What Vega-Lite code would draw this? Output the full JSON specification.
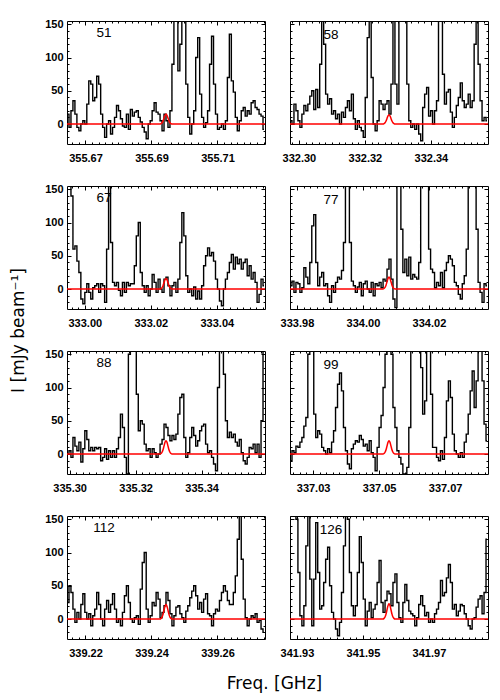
{
"$schema":"https://vega.github.io/schema/vega-lite/v6.json",
"background":"white",
"padding":{"left":8,"top":17,"right":5,"bottom":5},
"columns":2,
"spacing":{"row":42,"column":25},
"bounds":"flush",
"config":{
"view":{"stroke":"black","strokeWidth":1},
"axis":{"domain":false,"grid":false,"tickColor":"black","tickWidth":1,"labelColor":"black","labelFont":"Liberation Sans","labelFontWeight":"bold","labelFontSize":11,"labelFlush":false,"labelOverlap":false,"titleColor":"black","titleFont":"DejaVu Sans","titleFontSize":17,"titleFontWeight":"normal"},
"title":{"font":"Liberation Sans","fontSize":13.5,"fontWeight":"normal","color":"black","dy":7}
},
"datasets":{
"s51":[{"f":355.6647,"v":15},{"f":355.6653,"v":-5},{"f":355.6659,"v":20},{"f":355.6665,"v":35},{"f":355.6671,"v":15},{"f":355.6677,"v":-5},{"f":355.6683,"v":-10},{"f":355.6689,"v":0},{"f":355.6695,"v":5},{"f":355.6701,"v":0},
{"f":355.6707,"v":30},{"f":355.6713,"v":65},{"f":355.6719,"v":60},{"f":355.6725,"v":35},{"f":355.6731,"v":40},{"f":355.6737,"v":72},{"f":355.6743,"v":60},{"f":355.6749,"v":15},{"f":355.6755,"v":-5},{"f":355.6761,"v":-20},
{"f":355.6767,"v":0},{"f":355.6773,"v":5},{"f":355.6779,"v":-15},{"f":355.6785,"v":-5},{"f":355.6791,"v":10},{"f":355.6797,"v":28},{"f":355.6803,"v":20},{"f":355.6809,"v":8},{"f":355.6815,"v":-3},{"f":355.6821,"v":-5},
{"f":355.6827,"v":15},{"f":355.6833,"v":-8},{"f":355.6839,"v":22},{"f":355.6845,"v":12},{"f":355.6851,"v":18},{"f":355.6857,"v":20},{"f":355.6863,"v":10},{"f":355.6869,"v":3},{"f":355.6875,"v":-5},{"f":355.6881,"v":-12},
{"f":355.6887,"v":-22},{"f":355.6893,"v":0},{"f":355.6899,"v":5},{"f":355.6905,"v":20},{"f":355.6911,"v":32},{"f":355.6917,"v":18},{"f":355.6923,"v":15},{"f":355.6929,"v":5},{"f":355.6935,"v":-10},{"f":355.6941,"v":15},
{"f":355.6947,"v":5},{"f":355.6953,"v":-5},{"f":355.6959,"v":20},{"f":355.6965,"v":90},{"f":355.6971,"v":200},{"f":355.6977,"v":200},{"f":355.6983,"v":80},{"f":355.6989,"v":120},{"f":355.6995,"v":200},{"f":355.7001,"v":200},
{"f":355.7007,"v":60},{"f":355.7013,"v":10},{"f":355.7019,"v":-15},{"f":355.7025,"v":0},{"f":355.7031,"v":20},{"f":355.7037,"v":100},{"f":355.7043,"v":130},{"f":355.7049,"v":45},{"f":355.7055,"v":10},{"f":355.7061,"v":-5},
{"f":355.7067,"v":2},{"f":355.7073,"v":20},{"f":355.7079,"v":90},{"f":355.7085,"v":132},{"f":355.7091,"v":60},{"f":355.7097,"v":15},{"f":355.7103,"v":-8},{"f":355.7109,"v":-5},{"f":355.7115,"v":0},{"f":355.7121,"v":-8},
{"f":355.7127,"v":5},{"f":355.7133,"v":70},{"f":355.7139,"v":135},{"f":355.7145,"v":65},{"f":355.7151,"v":48},{"f":355.7157,"v":10},{"f":355.7163,"v":-10},{"f":355.7169,"v":5},{"f":355.7175,"v":20},{"f":355.7181,"v":25},
{"f":355.7187,"v":12},{"f":355.7193,"v":20},{"f":355.7199,"v":15},{"f":355.7205,"v":32},{"f":355.7211,"v":35},{"f":355.7217,"v":25},{"f":355.7223,"v":22},{"f":355.7229,"v":15},{"f":355.7235,"v":12},{"f":355.7241,"v":-8}],
"s58":[{"f":332.2976,"v":5},{"f":332.2982,"v":0},{"f":332.2988,"v":30},{"f":332.2994,"v":20},{"f":332.3000,"v":5},{"f":332.3006,"v":-5},{"f":332.3012,"v":15},{"f":332.3018,"v":28},{"f":332.3024,"v":20},{"f":332.3030,"v":30},
{"f":332.3036,"v":42},{"f":332.3042,"v":50},{"f":332.3048,"v":22},{"f":332.3054,"v":52},{"f":332.3060,"v":25},{"f":332.3066,"v":90},{"f":332.3072,"v":200},{"f":332.3078,"v":120},{"f":332.3084,"v":45},{"f":332.3090,"v":30},
{"f":332.3096,"v":38},{"f":332.3102,"v":15},{"f":332.3108,"v":20},{"f":332.3114,"v":8},{"f":332.3120,"v":15},{"f":332.3126,"v":0},{"f":332.3132,"v":18},{"f":332.3138,"v":10},{"f":332.3144,"v":25},{"f":332.3150,"v":35},
{"f":332.3156,"v":20},{"f":332.3162,"v":45},{"f":332.3168,"v":8},{"f":332.3174,"v":-8},{"f":332.3180,"v":5},{"f":332.3186,"v":-5},{"f":332.3192,"v":-10},{"f":332.3198,"v":-20},{"f":332.3204,"v":40},{"f":332.3210,"v":130},
{"f":332.3216,"v":200},{"f":332.3222,"v":70},{"f":332.3228,"v":0},{"f":332.3234,"v":-10},{"f":332.3240,"v":5},{"f":332.3246,"v":35},{"f":332.3252,"v":30},{"f":332.3258,"v":22},{"f":332.3264,"v":30},{"f":332.3270,"v":35},
{"f":332.3276,"v":15},{"f":332.3282,"v":60},{"f":332.3288,"v":200},{"f":332.3294,"v":60},{"f":332.3300,"v":30},{"f":332.3306,"v":200},{"f":332.3312,"v":200},{"f":332.3318,"v":200},{"f":332.3324,"v":200},{"f":332.3330,"v":60},
{"f":332.3336,"v":5},{"f":332.3342,"v":-5},{"f":332.3348,"v":0},{"f":332.3354,"v":-8},{"f":332.3360,"v":0},{"f":332.3366,"v":-15},{"f":332.3372,"v":-25},{"f":332.3378,"v":25},{"f":332.3384,"v":45},{"f":332.3390,"v":55},
{"f":332.3396,"v":12},{"f":332.3402,"v":20},{"f":332.3408,"v":0},{"f":332.3414,"v":20},{"f":332.3420,"v":35},{"f":332.3426,"v":200},{"f":332.3432,"v":180},{"f":332.3438,"v":75},{"f":332.3444,"v":30},{"f":332.3450,"v":48},
{"f":332.3456,"v":52},{"f":332.3462,"v":18},{"f":332.3468,"v":-5},{"f":332.3474,"v":10},{"f":332.3480,"v":28},{"f":332.3486,"v":40},{"f":332.3492,"v":62},{"f":332.3498,"v":35},{"f":332.3504,"v":25},{"f":332.3510,"v":30},
{"f":332.3516,"v":45},{"f":332.3522,"v":25},{"f":332.3528,"v":35},{"f":332.3534,"v":120},{"f":332.3540,"v":200},{"f":332.3546,"v":90},{"f":332.3552,"v":35},{"f":332.3558,"v":5},{"f":332.3564,"v":10},{"f":332.3570,"v":5}],
"s67":[{"f":332.9949,"v":200},{"f":332.9955,"v":200},{"f":332.9961,"v":140},{"f":332.9967,"v":60},{"f":332.9973,"v":65},{"f":332.9979,"v":42},{"f":332.9985,"v":25},{"f":332.9991,"v":-15},{"f":332.9997,"v":-22},{"f":333.0003,"v":-5},
{"f":333.0009,"v":8},{"f":333.0015,"v":-5},{"f":333.0021,"v":-15},{"f":333.0027,"v":2},{"f":333.0033,"v":5},{"f":333.0039,"v":8},{"f":333.0045,"v":-5},{"f":333.0051,"v":8},{"f":333.0057,"v":5},{"f":333.0063,"v":-20},
{"f":333.0069,"v":60},{"f":333.0075,"v":200},{"f":333.0081,"v":70},{"f":333.0087,"v":10},{"f":333.0093,"v":5},{"f":333.0099,"v":10},{"f":333.0105,"v":-2},{"f":333.0111,"v":-10},{"f":333.0117,"v":10},{"f":333.0123,"v":-5},
{"f":333.0129,"v":10},{"f":333.0135,"v":5},{"f":333.0141,"v":8},{"f":333.0147,"v":8},{"f":333.0153,"v":35},{"f":333.0159,"v":80},{"f":333.0165,"v":100},{"f":333.0171,"v":25},{"f":333.0177,"v":5},{"f":333.0183,"v":-5},
{"f":333.0189,"v":5},{"f":333.0195,"v":-10},{"f":333.0201,"v":0},{"f":333.0207,"v":22},{"f":333.0213,"v":10},{"f":333.0219,"v":-5},{"f":333.0225,"v":15},{"f":333.0231,"v":0},{"f":333.0237,"v":-5},{"f":333.0243,"v":15},
{"f":333.0249,"v":18},{"f":333.0255,"v":5},{"f":333.0261,"v":-10},{"f":333.0267,"v":5},{"f":333.0273,"v":10},{"f":333.0279,"v":-5},{"f":333.0285,"v":15},{"f":333.0291,"v":70},{"f":333.0297,"v":115},{"f":333.0303,"v":80},
{"f":333.0309,"v":20},{"f":333.0315,"v":-5},{"f":333.0321,"v":0},{"f":333.0327,"v":-10},{"f":333.0333,"v":3},{"f":333.0339,"v":-15},{"f":333.0345,"v":-3},{"f":333.0351,"v":-15},{"f":333.0357,"v":5},{"f":333.0363,"v":35},
{"f":333.0369,"v":50},{"f":333.0375,"v":62},{"f":333.0381,"v":50},{"f":333.0387,"v":55},{"f":333.0393,"v":42},{"f":333.0399,"v":15},{"f":333.0405,"v":0},{"f":333.0411,"v":-18},{"f":333.0417,"v":-25},{"f":333.0423,"v":0},
{"f":333.0429,"v":15},{"f":333.0435,"v":25},{"f":333.0441,"v":40},{"f":333.0447,"v":52},{"f":333.0453,"v":30},{"f":333.0459,"v":48},{"f":333.0465,"v":38},{"f":333.0471,"v":45},{"f":333.0477,"v":30},{"f":333.0483,"v":40},
{"f":333.0489,"v":45},{"f":333.0495,"v":20},{"f":333.0501,"v":35},{"f":333.0507,"v":15},{"f":333.0513,"v":25},{"f":333.0519,"v":10},{"f":333.0525,"v":-20},{"f":333.0531,"v":-8},{"f":333.0537,"v":15},{"f":333.0543,"v":5}],
"s77":[{"f":333.9782,"v":5},{"f":333.9788,"v":12},{"f":333.9794,"v":-5},{"f":333.9800,"v":10},{"f":333.9806,"v":8},{"f":333.9812,"v":-5},{"f":333.9818,"v":2},{"f":333.9824,"v":32},{"f":333.9830,"v":18},{"f":333.9836,"v":8},
{"f":333.9842,"v":40},{"f":333.9848,"v":95},{"f":333.9854,"v":112},{"f":333.9860,"v":40},{"f":333.9866,"v":5},{"f":333.9872,"v":18},{"f":333.9878,"v":25},{"f":333.9884,"v":5},{"f":333.9890,"v":8},{"f":333.9896,"v":-10},
{"f":333.9902,"v":-20},{"f":333.9908,"v":5},{"f":333.9914,"v":-5},{"f":333.9920,"v":10},{"f":333.9926,"v":18},{"f":333.9932,"v":15},{"f":333.9938,"v":28},{"f":333.9944,"v":70},{"f":333.9950,"v":200},{"f":333.9956,"v":200},
{"f":333.9962,"v":70},{"f":333.9968,"v":12},{"f":333.9974,"v":5},{"f":333.9980,"v":-5},{"f":333.9986,"v":3},{"f":333.9992,"v":10},{"f":333.9998,"v":-10},{"f":334.0004,"v":8},{"f":334.0010,"v":12},{"f":334.0016,"v":0},
{"f":334.0022,"v":-5},{"f":334.0028,"v":10},{"f":334.0034,"v":-10},{"f":334.0040,"v":8},{"f":334.0046,"v":5},{"f":334.0052,"v":10},{"f":334.0058,"v":2},{"f":334.0064,"v":15},{"f":334.0070,"v":12},{"f":334.0076,"v":30},
{"f":334.0082,"v":45},{"f":334.0088,"v":15},{"f":334.0094,"v":-15},{"f":334.0100,"v":-28},{"f":334.0106,"v":200},{"f":334.0112,"v":200},{"f":334.0118,"v":90},{"f":334.0124,"v":25},{"f":334.0130,"v":45},{"f":334.0136,"v":20},
{"f":334.0142,"v":48},{"f":334.0148,"v":15},{"f":334.0154,"v":22},{"f":334.0160,"v":18},{"f":334.0166,"v":15},{"f":334.0172,"v":40},{"f":334.0178,"v":200},{"f":334.0184,"v":200},{"f":334.0190,"v":200},{"f":334.0196,"v":200},
{"f":334.0202,"v":60},{"f":334.0208,"v":30},{"f":334.0214,"v":25},{"f":334.0220,"v":2},{"f":334.0226,"v":10},{"f":334.0232,"v":5},{"f":334.0238,"v":25},{"f":334.0244,"v":2},{"f":334.0250,"v":28},{"f":334.0256,"v":40},
{"f":334.0262,"v":50},{"f":334.0268,"v":45},{"f":334.0274,"v":35},{"f":334.0280,"v":10},{"f":334.0286,"v":5},{"f":334.0292,"v":-8},{"f":334.0298,"v":-15},{"f":334.0304,"v":8},{"f":334.0310,"v":20},{"f":334.0316,"v":60},
{"f":334.0322,"v":200},{"f":334.0328,"v":200},{"f":334.0334,"v":200},{"f":334.0340,"v":200},{"f":334.0346,"v":90},{"f":334.0352,"v":10},{"f":334.0358,"v":-5},{"f":334.0364,"v":-20},{"f":334.0370,"v":8},{"f":334.0376,"v":5}],
"s88":[{"f":335.2995,"v":0},{"f":335.3001,"v":5},{"f":335.3007,"v":-5},{"f":335.3013,"v":25},{"f":335.3019,"v":12},{"f":335.3025,"v":5},{"f":335.3031,"v":18},{"f":335.3037,"v":-12},{"f":335.3043,"v":8},{"f":335.3049,"v":35},
{"f":335.3055,"v":22},{"f":335.3061,"v":5},{"f":335.3067,"v":10},{"f":335.3073,"v":5},{"f":335.3079,"v":10},{"f":335.3085,"v":8},{"f":335.3091,"v":10},{"f":335.3097,"v":-10},{"f":335.3103,"v":-5},{"f":335.3109,"v":8},
{"f":335.3115,"v":-8},{"f":335.3121,"v":5},{"f":335.3127,"v":-5},{"f":335.3133,"v":5},{"f":335.3139,"v":-5},{"f":335.3145,"v":8},{"f":335.3151,"v":25},{"f":335.3157,"v":60},{"f":335.3163,"v":40},{"f":335.3169,"v":-5},
{"f":335.3175,"v":-30},{"f":335.3181,"v":150},{"f":335.3187,"v":200},{"f":335.3193,"v":200},{"f":335.3199,"v":200},{"f":335.3205,"v":90},{"f":335.3211,"v":35},{"f":335.3217,"v":50},{"f":335.3223,"v":45},{"f":335.3229,"v":15},
{"f":335.3235,"v":5},{"f":335.3241,"v":8},{"f":335.3247,"v":-5},{"f":335.3253,"v":8},{"f":335.3259,"v":2},{"f":335.3265,"v":-5},{"f":335.3271,"v":0},{"f":335.3277,"v":15},{"f":335.3283,"v":22},{"f":335.3289,"v":45},
{"f":335.3295,"v":40},{"f":335.3301,"v":28},{"f":335.3307,"v":20},{"f":335.3313,"v":28},{"f":335.3319,"v":22},{"f":335.3325,"v":30},{"f":335.3331,"v":60},{"f":335.3337,"v":85},{"f":335.3343,"v":90},{"f":335.3349,"v":25},
{"f":335.3355,"v":-5},{"f":335.3361,"v":2},{"f":335.3367,"v":25},{"f":335.3373,"v":40},{"f":335.3379,"v":28},{"f":335.3385,"v":12},{"f":335.3391,"v":20},{"f":335.3397,"v":35},{"f":335.3403,"v":42},{"f":335.3409,"v":45},
{"f":335.3415,"v":15},{"f":335.3421,"v":2},{"f":335.3427,"v":5},{"f":335.3433,"v":-5},{"f":335.3439,"v":-15},{"f":335.3445,"v":-25},{"f":335.3451,"v":100},{"f":335.3457,"v":200},{"f":335.3463,"v":200},{"f":335.3469,"v":120},
{"f":335.3475,"v":50},{"f":335.3481,"v":25},{"f":335.3487,"v":33},{"f":335.3493,"v":25},{"f":335.3499,"v":30},{"f":335.3505,"v":18},{"f":335.3511,"v":12},{"f":335.3517,"v":22},{"f":335.3523,"v":2},{"f":335.3529,"v":-10},
{"f":335.3535,"v":-15},{"f":335.3541,"v":-5},{"f":335.3547,"v":10},{"f":335.3553,"v":8},{"f":335.3559,"v":15},{"f":335.3565,"v":2},{"f":335.3571,"v":15},{"f":335.3577,"v":-5},{"f":335.3583,"v":50},{"f":335.3589,"v":200}],
"s99":[{"f":337.0233,"v":-10},{"f":337.0239,"v":5},{"f":337.0245,"v":2},{"f":337.0251,"v":12},{"f":337.0257,"v":10},{"f":337.0263,"v":18},{"f":337.0269,"v":25},{"f":337.0275,"v":42},{"f":337.0281,"v":55},{"f":337.0287,"v":150},
{"f":337.0293,"v":200},{"f":337.0299,"v":200},{"f":337.0305,"v":60},{"f":337.0311,"v":25},{"f":337.0317,"v":35},{"f":337.0323,"v":30},{"f":337.0329,"v":10},{"f":337.0335,"v":5},{"f":337.0341,"v":0},{"f":337.0347,"v":8},
{"f":337.0353,"v":2},{"f":337.0359,"v":18},{"f":337.0365,"v":35},{"f":337.0371,"v":70},{"f":337.0377,"v":105},{"f":337.0383,"v":122},{"f":337.0389,"v":95},{"f":337.0395,"v":40},{"f":337.0401,"v":5},{"f":337.0407,"v":-15},
{"f":337.0413,"v":-22},{"f":337.0419,"v":8},{"f":337.0425,"v":15},{"f":337.0431,"v":20},{"f":337.0437,"v":18},{"f":337.0443,"v":28},{"f":337.0449,"v":22},{"f":337.0455,"v":12},{"f":337.0461,"v":15},{"f":337.0467,"v":5},
{"f":337.0473,"v":20},{"f":337.0479,"v":2},{"f":337.0485,"v":-5},{"f":337.0491,"v":-25},{"f":337.0497,"v":10},{"f":337.0503,"v":40},{"f":337.0509,"v":58},{"f":337.0515,"v":100},{"f":337.0521,"v":150},{"f":337.0527,"v":200},
{"f":337.0533,"v":200},{"f":337.0539,"v":150},{"f":337.0545,"v":70},{"f":337.0551,"v":40},{"f":337.0557,"v":5},{"f":337.0563,"v":-5},{"f":337.0569,"v":-15},{"f":337.0575,"v":-30},{"f":337.0581,"v":-30},{"f":337.0587,"v":-20},
{"f":337.0593,"v":40},{"f":337.0599,"v":200},{"f":337.0605,"v":200},{"f":337.0611,"v":200},{"f":337.0617,"v":200},{"f":337.0623,"v":200},{"f":337.0629,"v":130},{"f":337.0635,"v":60},{"f":337.0641,"v":80},{"f":337.0647,"v":200},
{"f":337.0653,"v":200},{"f":337.0659,"v":90},{"f":337.0665,"v":10},{"f":337.0671,"v":10},{"f":337.0677,"v":-5},{"f":337.0683,"v":-10},{"f":337.0689,"v":5},{"f":337.0695,"v":-8},{"f":337.0701,"v":25},{"f":337.0707,"v":80},
{"f":337.0713,"v":110},{"f":337.0719,"v":85},{"f":337.0725,"v":30},{"f":337.0731,"v":5},{"f":337.0737,"v":0},{"f":337.0743,"v":-5},{"f":337.0749,"v":2},{"f":337.0755,"v":-5},{"f":337.0761,"v":18},{"f":337.0767,"v":30},
{"f":337.0773,"v":60},{"f":337.0779,"v":95},{"f":337.0785,"v":125},{"f":337.0791,"v":70},{"f":337.0797,"v":110},{"f":337.0803,"v":200},{"f":337.0809,"v":200},{"f":337.0815,"v":110},{"f":337.0821,"v":45},{"f":337.0827,"v":20}],
"s112":[{"f":339.2147,"v":25},{"f":339.2153,"v":50},{"f":339.2159,"v":40},{"f":339.2165,"v":15},{"f":339.2171,"v":-5},{"f":339.2177,"v":10},{"f":339.2183,"v":0},{"f":339.2189,"v":22},{"f":339.2195,"v":38},{"f":339.2201,"v":10},
{"f":339.2207,"v":0},{"f":339.2213,"v":8},{"f":339.2219,"v":-10},{"f":339.2225,"v":5},{"f":339.2231,"v":15},{"f":339.2237,"v":40},{"f":339.2243,"v":22},{"f":339.2249,"v":0},{"f":339.2255,"v":-10},{"f":339.2261,"v":15},
{"f":339.2267,"v":28},{"f":339.2273,"v":10},{"f":339.2279,"v":22},{"f":339.2285,"v":38},{"f":339.2291,"v":15},{"f":339.2297,"v":-5},{"f":339.2303,"v":0},{"f":339.2309,"v":-10},{"f":339.2315,"v":10},{"f":339.2321,"v":35},
{"f":339.2327,"v":50},{"f":339.2333,"v":25},{"f":339.2339,"v":0},{"f":339.2345,"v":-5},{"f":339.2351,"v":2},{"f":339.2357,"v":5},{"f":339.2363,"v":-8},{"f":339.2369,"v":45},{"f":339.2375,"v":85},{"f":339.2381,"v":100},
{"f":339.2387,"v":15},{"f":339.2393,"v":-5},{"f":339.2399,"v":5},{"f":339.2405,"v":25},{"f":339.2411,"v":20},{"f":339.2417,"v":40},{"f":339.2423,"v":30},{"f":339.2429,"v":2},{"f":339.2435,"v":10},{"f":339.2441,"v":20},
{"f":339.2447,"v":40},{"f":339.2453,"v":28},{"f":339.2459,"v":8},{"f":339.2465,"v":-10},{"f":339.2471,"v":5},{"f":339.2477,"v":18},{"f":339.2483,"v":20},{"f":339.2489,"v":8},{"f":339.2495,"v":2},{"f":339.2501,"v":-5},
{"f":339.2507,"v":12},{"f":339.2513,"v":20},{"f":339.2519,"v":32},{"f":339.2525,"v":42},{"f":339.2531,"v":50},{"f":339.2537,"v":35},{"f":339.2543,"v":15},{"f":339.2549,"v":25},{"f":339.2555,"v":10},{"f":339.2561,"v":30},
{"f":339.2567,"v":38},{"f":339.2573,"v":8},{"f":339.2579,"v":5},{"f":339.2585,"v":-10},{"f":339.2591,"v":8},{"f":339.2597,"v":15},{"f":339.2603,"v":12},{"f":339.2609,"v":28},{"f":339.2615,"v":40},{"f":339.2621,"v":50},
{"f":339.2627,"v":42},{"f":339.2633,"v":28},{"f":339.2639,"v":22},{"f":339.2645,"v":22},{"f":339.2651,"v":40},{"f":339.2657,"v":65},{"f":339.2663,"v":120},{"f":339.2669,"v":160},{"f":339.2675,"v":90},{"f":339.2681,"v":30},
{"f":339.2687,"v":2},{"f":339.2693,"v":-10},{"f":339.2699,"v":0},{"f":339.2705,"v":5},{"f":339.2711,"v":2},{"f":339.2717,"v":8},{"f":339.2723,"v":-5},{"f":339.2729,"v":-2},{"f":339.2735,"v":-15},{"f":339.2741,"v":-20}],
"s126":[{"f":341.9282,"v":200},{"f":341.9288,"v":200},{"f":341.9294,"v":200},{"f":341.9300,"v":150},{"f":341.9306,"v":70},{"f":341.9312,"v":5},{"f":341.9318,"v":-10},{"f":341.9324,"v":20},{"f":341.9330,"v":110},{"f":341.9336,"v":200},
{"f":341.9342,"v":60},{"f":341.9348,"v":-10},{"f":341.9354,"v":60},{"f":341.9360,"v":145},{"f":341.9366,"v":70},{"f":341.9372,"v":15},{"f":341.9378,"v":20},{"f":341.9384,"v":55},{"f":341.9390,"v":90},{"f":341.9396,"v":108},
{"f":341.9402,"v":50},{"f":341.9408,"v":10},{"f":341.9414,"v":0},{"f":341.9420,"v":-15},{"f":341.9426,"v":-25},{"f":341.9432,"v":-5},{"f":341.9438,"v":40},{"f":341.9444,"v":110},{"f":341.9450,"v":200},{"f":341.9456,"v":150},
{"f":341.9462,"v":70},{"f":341.9468,"v":20},{"f":341.9474,"v":5},{"f":341.9480,"v":20},{"f":341.9486,"v":70},{"f":341.9492,"v":124},{"f":341.9498,"v":85},{"f":341.9504,"v":30},{"f":341.9510,"v":-10},{"f":341.9516,"v":12},
{"f":341.9522,"v":25},{"f":341.9528,"v":2},{"f":341.9534,"v":15},{"f":341.9540,"v":22},{"f":341.9546,"v":55},{"f":341.9552,"v":88},{"f":341.9558,"v":25},{"f":341.9564,"v":10},{"f":341.9570,"v":28},{"f":341.9576,"v":42},
{"f":341.9582,"v":38},{"f":341.9588,"v":20},{"f":341.9594,"v":55},{"f":341.9600,"v":68},{"f":341.9606,"v":25},{"f":341.9612,"v":2},{"f":341.9618,"v":-5},{"f":341.9624,"v":25},{"f":341.9630,"v":52},{"f":341.9636,"v":28},
{"f":341.9642,"v":12},{"f":341.9648,"v":8},{"f":341.9654,"v":5},{"f":341.9660,"v":-10},{"f":341.9666,"v":2},{"f":341.9672,"v":22},{"f":341.9678,"v":35},{"f":341.9684,"v":20},{"f":341.9690,"v":5},{"f":341.9696,"v":10},
{"f":341.9702,"v":-5},{"f":341.9708,"v":0},{"f":341.9714,"v":-5},{"f":341.9720,"v":8},{"f":341.9726,"v":15},{"f":341.9732,"v":25},{"f":341.9738,"v":58},{"f":341.9744,"v":35},{"f":341.9750,"v":40},{"f":341.9756,"v":62},
{"f":341.9762,"v":82},{"f":341.9768,"v":55},{"f":341.9774,"v":15},{"f":341.9780,"v":22},{"f":341.9786,"v":5},{"f":341.9792,"v":12},{"f":341.9798,"v":22},{"f":341.9804,"v":20},{"f":341.9810,"v":8},{"f":341.9816,"v":0},
{"f":341.9822,"v":-10},{"f":341.9828,"v":-15},{"f":341.9834,"v":0},{"f":341.9840,"v":2},{"f":341.9846,"v":18},{"f":341.9852,"v":30},{"f":341.9858,"v":35},{"f":341.9864,"v":8},{"f":341.9870,"v":40},{"f":341.9876,"v":120}],
"m51":[{"f":355.6644,"v":0},{"f":355.6926,"v":0},{"f":355.6929,"v":0.7},{"f":355.6932,"v":2},{"f":355.6935,"v":4.8},{"f":355.6938,"v":9.2},{"f":355.6941,"v":13.2},{"f":355.6944,"v":15},{"f":355.6947,"v":13.2},{"f":355.695,"v":9.2},{"f":355.6953,"v":4.8},{"f":355.6956,"v":2},{"f":355.6959,"v":0.7},{"f":355.6962,"v":0},{"f":355.7244,"v":0}],
"m58":[{"f":332.2973,"v":0},{"f":332.3255,"v":0},{"f":332.3258,"v":0.6},{"f":332.3261,"v":1.9},{"f":332.3264,"v":4.5},{"f":332.3267,"v":8.5},{"f":332.327,"v":12.3},{"f":332.3273,"v":14},{"f":332.3276,"v":12.3},{"f":332.3279,"v":8.5},{"f":332.3282,"v":4.5},{"f":332.3285,"v":1.9},{"f":332.3288,"v":0.6},{"f":332.3291,"v":0},{"f":332.3573,"v":0}],
"m67":[{"f":332.9946,"v":0},{"f":333.0228,"v":0},{"f":333.0231,"v":0.7},{"f":333.0234,"v":2.2},{"f":333.0237,"v":5.1},{"f":333.024,"v":9.8},{"f":333.0243,"v":14.1},{"f":333.0246,"v":16},{"f":333.0249,"v":14.1},{"f":333.0252,"v":9.8},{"f":333.0255,"v":5.1},{"f":333.0258,"v":2.2},{"f":333.0261,"v":0.7},{"f":333.0264,"v":0},{"f":333.0546,"v":0}],
"m77":[{"f":333.9779,"v":0},{"f":334.0061,"v":0},{"f":334.0064,"v":0.8},{"f":334.0067,"v":2.4},{"f":334.007,"v":5.8},{"f":334.0073,"v":11},{"f":334.0076,"v":15.8},{"f":334.0079,"v":18},{"f":334.0082,"v":15.8},{"f":334.0085,"v":11},{"f":334.0088,"v":5.8},{"f":334.0091,"v":2.4},{"f":334.0094,"v":0.8},{"f":334.0097,"v":0},{"f":334.0379,"v":0}],
"m88":[{"f":335.2992,"v":0},{"f":335.3274,"v":0},{"f":335.3277,"v":0.9},{"f":335.328,"v":2.7},{"f":335.3283,"v":6.4},{"f":335.3286,"v":12.2},{"f":335.3289,"v":17.6},{"f":335.3292,"v":20},{"f":335.3295,"v":17.6},{"f":335.3298,"v":12.2},{"f":335.3301,"v":6.4},{"f":335.3304,"v":2.7},{"f":335.3307,"v":0.9},{"f":335.331,"v":0},{"f":335.3592,"v":0}],
"m99":[{"f":337.023,"v":0},{"f":337.0512,"v":0},{"f":337.0515,"v":0.9},{"f":337.0518,"v":2.7},{"f":337.0521,"v":6.4},{"f":337.0524,"v":12.2},{"f":337.0527,"v":17.6},{"f":337.053,"v":20},{"f":337.0533,"v":17.6},{"f":337.0536,"v":12.2},{"f":337.0539,"v":6.4},{"f":337.0542,"v":2.7},{"f":337.0545,"v":0.9},{"f":337.0548,"v":0},{"f":337.083,"v":0}],
"m112":[{"f":339.2144,"v":0},{"f":339.2426,"v":0},{"f":339.2429,"v":1},{"f":339.2432,"v":3},{"f":339.2435,"v":7},{"f":339.2438,"v":13.4},{"f":339.2441,"v":19.4},{"f":339.2444,"v":22},{"f":339.2447,"v":19.4},{"f":339.245,"v":13.4},{"f":339.2453,"v":7},{"f":339.2456,"v":3},{"f":339.2459,"v":1},{"f":339.2462,"v":0},{"f":339.2744,"v":0}],
"m126":[{"f":341.9279,"v":0},{"f":341.9561,"v":0},{"f":341.9564,"v":1},{"f":341.9567,"v":3.1},{"f":341.957,"v":7.4},{"f":341.9573,"v":14},{"f":341.9576,"v":20.2},{"f":341.9579,"v":23},{"f":341.9582,"v":20.2},{"f":341.9585,"v":14},{"f":341.9588,"v":7.4},{"f":341.9591,"v":3.1},{"f":341.9594,"v":1},{"f":341.9597,"v":0},{"f":341.9879,"v":0}]
},
"concat":[
{"width":198,"height":123,
"title":{"text":"51","anchor":"start","align":"center","dx":37,"offset":-25,"frame":"group","baseline":"alphabetic"},
"layer":[
{"data":{"name":"s51"},"mark":{"type":"line","interpolate":"step","color":"black","strokeWidth":1.4,"clip":true},
"encoding":{"x":{"field":"f","type":"quantitative","scale":{"domain":[355.6644,355.7244],"nice":false,"zero":false},"axis":{"orient":"bottom","values":[355.67,355.69,355.71],"format":".2f","tickSize":-4,"labelPadding":12,"title":null}},
"y":{"field":"v","type":"quantitative","scale":{"domain":[-30,155],"nice":false,"zero":false},"axis":{"orient":"left","values":[0,50,100,150],"tickSize":-4,"labelPadding":8,"title":null}}}},
{"data":{"name":"m51"},"mark":{"type":"line","interpolate":"monotone","color":"#ff0000","strokeWidth":1.5,"clip":true},
"encoding":{"x":{"field":"f","type":"quantitative","scale":{"domain":[355.6644,355.7244],"nice":false,"zero":false},"axis":{"orient":"top","values":[355.67,355.69,355.71],"tickSize":-4,"labels":false,"title":null}},
"y":{"field":"v","type":"quantitative","scale":{"domain":[-30,155],"nice":false,"zero":false},"axis":{"orient":"right","values":[0,50,100,150],"tickSize":-4,"labels":false,"title":null}}}},
{"data":{"name":"m51"},"mark":{"type":"line","opacity":0},
"encoding":{"x":{"field":"f","type":"quantitative","scale":{"domain":[355.6644,355.7244],"nice":false,"zero":false},"axis":{"orient":"bottom","values":[355.666,355.668,355.67,355.672,355.674,355.676,355.678,355.68,355.682,355.684,355.686,355.688,355.69,355.692,355.694,355.696,355.698,355.7,355.702,355.704,355.706,355.708,355.71,355.712,355.714,355.716,355.718,355.72,355.722,355.724],"tickSize":-2,"labels":false,"title":null}},
"y":{"field":"v","type":"quantitative","scale":{"domain":[-30,155],"nice":false,"zero":false},"axis":{"orient":"left","values":[-20,-10,10,20,30,40,60,70,80,90,110,120,130,140],"tickSize":-2,"labels":false,"title":null}}}},
{"data":{"name":"m51"},"mark":{"type":"line","opacity":0},
"encoding":{"x":{"field":"f","type":"quantitative","scale":{"domain":[355.6644,355.7244],"nice":false,"zero":false},"axis":{"orient":"top","values":[355.666,355.668,355.67,355.672,355.674,355.676,355.678,355.68,355.682,355.684,355.686,355.688,355.69,355.692,355.694,355.696,355.698,355.7,355.702,355.704,355.706,355.708,355.71,355.712,355.714,355.716,355.718,355.72,355.722,355.724],"tickSize":-2,"labels":false,"title":null}},
"y":{"field":"v","type":"quantitative","scale":{"domain":[-30,155],"nice":false,"zero":false},"axis":{"orient":"right","values":[-20,-10,10,20,30,40,60,70,80,90,110,120,130,140],"tickSize":-2,"labels":false,"title":null}}}}
],
"resolve":{"axis":{"x":"independent","y":"independent"}}},

{"width":198,"height":123,
"title":{"text":"58","anchor":"start","align":"center","dx":41,"offset":-25,"frame":"group","baseline":"alphabetic"},
"layer":[
{"data":{"name":"s58"},"mark":{"type":"line","interpolate":"step","color":"black","strokeWidth":1.4,"clip":true},
"encoding":{"x":{"field":"f","type":"quantitative","scale":{"domain":[332.2973,332.3573],"nice":false,"zero":false},"axis":{"orient":"bottom","values":[332.30,332.32,332.34],"format":".2f","tickSize":-4,"labelPadding":12,"title":null}},
"y":{"field":"v","type":"quantitative","scale":{"domain":[-30,155],"nice":false,"zero":false},"axis":{"orient":"left","values":[0,50,100,150],"tickSize":-4,"labels":false,"title":null}}}},
{"data":{"name":"m58"},"mark":{"type":"line","interpolate":"monotone","color":"#ff0000","strokeWidth":1.5,"clip":true},
"encoding":{"x":{"field":"f","type":"quantitative","scale":{"domain":[332.2973,332.3573],"nice":false,"zero":false},"axis":{"orient":"top","values":[332.30,332.32,332.34],"tickSize":-4,"labels":false,"title":null}},
"y":{"field":"v","type":"quantitative","scale":{"domain":[-30,155],"nice":false,"zero":false},"axis":{"orient":"right","values":[0,50,100,150],"tickSize":-4,"labels":false,"title":null}}}},
{"data":{"name":"m58"},"mark":{"type":"line","opacity":0},
"encoding":{"x":{"field":"f","type":"quantitative","scale":{"domain":[332.2973,332.3573],"nice":false,"zero":false},"axis":{"orient":"bottom","values":[332.298,332.3,332.302,332.304,332.306,332.308,332.31,332.312,332.314,332.316,332.318,332.32,332.322,332.324,332.326,332.328,332.33,332.332,332.334,332.336,332.338,332.34,332.342,332.344,332.346,332.348,332.35,332.352,332.354,332.356],"tickSize":-2,"labels":false,"title":null}},
"y":{"field":"v","type":"quantitative","scale":{"domain":[-30,155],"nice":false,"zero":false},"axis":{"orient":"left","values":[-20,-10,10,20,30,40,60,70,80,90,110,120,130,140],"tickSize":-2,"labels":false,"title":null}}}},
{"data":{"name":"m58"},"mark":{"type":"line","opacity":0},
"encoding":{"x":{"field":"f","type":"quantitative","scale":{"domain":[332.2973,332.3573],"nice":false,"zero":false},"axis":{"orient":"top","values":[332.298,332.3,332.302,332.304,332.306,332.308,332.31,332.312,332.314,332.316,332.318,332.32,332.322,332.324,332.326,332.328,332.33,332.332,332.334,332.336,332.338,332.34,332.342,332.344,332.346,332.348,332.35,332.352,332.354,332.356],"tickSize":-2,"labels":false,"title":null}},
"y":{"field":"v","type":"quantitative","scale":{"domain":[-30,155],"nice":false,"zero":false},"axis":{"orient":"right","values":[-20,-10,10,20,30,40,60,70,80,90,110,120,130,140],"tickSize":-2,"labels":false,"title":null}}}}
],
"resolve":{"axis":{"x":"independent","y":"independent"}}},

{"width":198,"height":123,
"title":{"text":"67","anchor":"start","align":"center","dx":37,"offset":-25,"frame":"group","baseline":"alphabetic"},
"layer":[
{"data":{"name":"s67"},"mark":{"type":"line","interpolate":"step","color":"black","strokeWidth":1.4,"clip":true},
"encoding":{"x":{"field":"f","type":"quantitative","scale":{"domain":[332.9946,333.0546],"nice":false,"zero":false},"axis":{"orient":"bottom","values":[333.00,333.02,333.04],"format":".2f","tickSize":-4,"labelPadding":12,"title":null}},
"y":{"field":"v","type":"quantitative","scale":{"domain":[-30,155],"nice":false,"zero":false},"axis":{"orient":"left","values":[0,50,100,150],"tickSize":-4,"labelPadding":8,"title":"I [mJy beam⁻¹]","titleX":-49,"titleY":144,"titleAngle":-90,"titleAlign":"center","titleBaseline":"middle"}}}},
{"data":{"name":"m67"},"mark":{"type":"line","interpolate":"monotone","color":"#ff0000","strokeWidth":1.5,"clip":true},
"encoding":{"x":{"field":"f","type":"quantitative","scale":{"domain":[332.9946,333.0546],"nice":false,"zero":false},"axis":{"orient":"top","values":[333.00,333.02,333.04],"tickSize":-4,"labels":false,"title":null}},
"y":{"field":"v","type":"quantitative","scale":{"domain":[-30,155],"nice":false,"zero":false},"axis":{"orient":"right","values":[0,50,100,150],"tickSize":-4,"labels":false,"title":null}}}},
{"data":{"name":"m67"},"mark":{"type":"line","opacity":0},
"encoding":{"x":{"field":"f","type":"quantitative","scale":{"domain":[332.9946,333.0546],"nice":false,"zero":false},"axis":{"orient":"bottom","values":[332.996,332.998,333,333.002,333.004,333.006,333.008,333.01,333.012,333.014,333.016,333.018,333.02,333.022,333.024,333.026,333.028,333.03,333.032,333.034,333.036,333.038,333.04,333.042,333.044,333.046,333.048,333.05,333.052,333.054],"tickSize":-2,"labels":false,"title":null}},
"y":{"field":"v","type":"quantitative","scale":{"domain":[-30,155],"nice":false,"zero":false},"axis":{"orient":"left","values":[-20,-10,10,20,30,40,60,70,80,90,110,120,130,140],"tickSize":-2,"labels":false,"title":null}}}},
{"data":{"name":"m67"},"mark":{"type":"line","opacity":0},
"encoding":{"x":{"field":"f","type":"quantitative","scale":{"domain":[332.9946,333.0546],"nice":false,"zero":false},"axis":{"orient":"top","values":[332.996,332.998,333,333.002,333.004,333.006,333.008,333.01,333.012,333.014,333.016,333.018,333.02,333.022,333.024,333.026,333.028,333.03,333.032,333.034,333.036,333.038,333.04,333.042,333.044,333.046,333.048,333.05,333.052,333.054],"tickSize":-2,"labels":false,"title":null}},
"y":{"field":"v","type":"quantitative","scale":{"domain":[-30,155],"nice":false,"zero":false},"axis":{"orient":"right","values":[-20,-10,10,20,30,40,60,70,80,90,110,120,130,140],"tickSize":-2,"labels":false,"title":null}}}}
],
"resolve":{"axis":{"x":"independent","y":"independent"}}},

{"width":198,"height":123,
"title":{"text":"77","anchor":"start","align":"center","dx":41,"offset":-25,"frame":"group","baseline":"alphabetic"},
"layer":[
{"data":{"name":"s77"},"mark":{"type":"line","interpolate":"step","color":"black","strokeWidth":1.4,"clip":true},
"encoding":{"x":{"field":"f","type":"quantitative","scale":{"domain":[333.9779,334.0379],"nice":false,"zero":false},"axis":{"orient":"bottom","values":[333.98,334.00,334.02],"format":".2f","tickSize":-4,"labelPadding":12,"title":null}},
"y":{"field":"v","type":"quantitative","scale":{"domain":[-30,155],"nice":false,"zero":false},"axis":{"orient":"left","values":[0,50,100,150],"tickSize":-4,"labels":false,"title":null}}}},
{"data":{"name":"m77"},"mark":{"type":"line","interpolate":"monotone","color":"#ff0000","strokeWidth":1.5,"clip":true},
"encoding":{"x":{"field":"f","type":"quantitative","scale":{"domain":[333.9779,334.0379],"nice":false,"zero":false},"axis":{"orient":"top","values":[333.98,334.00,334.02],"tickSize":-4,"labels":false,"title":null}},
"y":{"field":"v","type":"quantitative","scale":{"domain":[-30,155],"nice":false,"zero":false},"axis":{"orient":"right","values":[0,50,100,150],"tickSize":-4,"labels":false,"title":null}}}},
{"data":{"name":"m77"},"mark":{"type":"line","opacity":0},
"encoding":{"x":{"field":"f","type":"quantitative","scale":{"domain":[333.9779,334.0379],"nice":false,"zero":false},"axis":{"orient":"bottom","values":[333.978,333.98,333.982,333.984,333.986,333.988,333.99,333.992,333.994,333.996,333.998,334,334.002,334.004,334.006,334.008,334.01,334.012,334.014,334.016,334.018,334.02,334.022,334.024,334.026,334.028,334.03,334.032,334.034,334.036],"tickSize":-2,"labels":false,"title":null}},
"y":{"field":"v","type":"quantitative","scale":{"domain":[-30,155],"nice":false,"zero":false},"axis":{"orient":"left","values":[-20,-10,10,20,30,40,60,70,80,90,110,120,130,140],"tickSize":-2,"labels":false,"title":null}}}},
{"data":{"name":"m77"},"mark":{"type":"line","opacity":0},
"encoding":{"x":{"field":"f","type":"quantitative","scale":{"domain":[333.9779,334.0379],"nice":false,"zero":false},"axis":{"orient":"top","values":[333.978,333.98,333.982,333.984,333.986,333.988,333.99,333.992,333.994,333.996,333.998,334,334.002,334.004,334.006,334.008,334.01,334.012,334.014,334.016,334.018,334.02,334.022,334.024,334.026,334.028,334.03,334.032,334.034,334.036],"tickSize":-2,"labels":false,"title":null}},
"y":{"field":"v","type":"quantitative","scale":{"domain":[-30,155],"nice":false,"zero":false},"axis":{"orient":"right","values":[-20,-10,10,20,30,40,60,70,80,90,110,120,130,140],"tickSize":-2,"labels":false,"title":null}}}}
],
"resolve":{"axis":{"x":"independent","y":"independent"}}},

{"width":198,"height":123,
"title":{"text":"88","anchor":"start","align":"center","dx":37,"offset":-25,"frame":"group","baseline":"alphabetic"},
"layer":[
{"data":{"name":"s88"},"mark":{"type":"line","interpolate":"step","color":"black","strokeWidth":1.4,"clip":true},
"encoding":{"x":{"field":"f","type":"quantitative","scale":{"domain":[335.2992,335.3592],"nice":false,"zero":false},"axis":{"orient":"bottom","values":[335.30,335.32,335.34],"format":".2f","tickSize":-4,"labelPadding":12,"title":null}},
"y":{"field":"v","type":"quantitative","scale":{"domain":[-30,155],"nice":false,"zero":false},"axis":{"orient":"left","values":[0,50,100,150],"tickSize":-4,"labelPadding":8,"title":null}}}},
{"data":{"name":"m88"},"mark":{"type":"line","interpolate":"monotone","color":"#ff0000","strokeWidth":1.5,"clip":true},
"encoding":{"x":{"field":"f","type":"quantitative","scale":{"domain":[335.2992,335.3592],"nice":false,"zero":false},"axis":{"orient":"top","values":[335.30,335.32,335.34],"tickSize":-4,"labels":false,"title":null}},
"y":{"field":"v","type":"quantitative","scale":{"domain":[-30,155],"nice":false,"zero":false},"axis":{"orient":"right","values":[0,50,100,150],"tickSize":-4,"labels":false,"title":null}}}},
{"data":{"name":"m88"},"mark":{"type":"line","opacity":0},
"encoding":{"x":{"field":"f","type":"quantitative","scale":{"domain":[335.2992,335.3592],"nice":false,"zero":false},"axis":{"orient":"bottom","values":[335.3,335.302,335.304,335.306,335.308,335.31,335.312,335.314,335.316,335.318,335.32,335.322,335.324,335.326,335.328,335.33,335.332,335.334,335.336,335.338,335.34,335.342,335.344,335.346,335.348,335.35,335.352,335.354,335.356,335.358],"tickSize":-2,"labels":false,"title":null}},
"y":{"field":"v","type":"quantitative","scale":{"domain":[-30,155],"nice":false,"zero":false},"axis":{"orient":"left","values":[-20,-10,10,20,30,40,60,70,80,90,110,120,130,140],"tickSize":-2,"labels":false,"title":null}}}},
{"data":{"name":"m88"},"mark":{"type":"line","opacity":0},
"encoding":{"x":{"field":"f","type":"quantitative","scale":{"domain":[335.2992,335.3592],"nice":false,"zero":false},"axis":{"orient":"top","values":[335.3,335.302,335.304,335.306,335.308,335.31,335.312,335.314,335.316,335.318,335.32,335.322,335.324,335.326,335.328,335.33,335.332,335.334,335.336,335.338,335.34,335.342,335.344,335.346,335.348,335.35,335.352,335.354,335.356,335.358],"tickSize":-2,"labels":false,"title":null}},
"y":{"field":"v","type":"quantitative","scale":{"domain":[-30,155],"nice":false,"zero":false},"axis":{"orient":"right","values":[-20,-10,10,20,30,40,60,70,80,90,110,120,130,140],"tickSize":-2,"labels":false,"title":null}}}}
],
"resolve":{"axis":{"x":"independent","y":"independent"}}},

{"width":198,"height":123,
"title":{"text":"99","anchor":"start","align":"center","dx":41,"offset":-25,"frame":"group","baseline":"alphabetic"},
"layer":[
{"data":{"name":"s99"},"mark":{"type":"line","interpolate":"step","color":"black","strokeWidth":1.4,"clip":true},
"encoding":{"x":{"field":"f","type":"quantitative","scale":{"domain":[337.023,337.083],"nice":false,"zero":false},"axis":{"orient":"bottom","values":[337.03,337.05,337.07],"format":".2f","tickSize":-4,"labelPadding":12,"title":null}},
"y":{"field":"v","type":"quantitative","scale":{"domain":[-30,155],"nice":false,"zero":false},"axis":{"orient":"left","values":[0,50,100,150],"tickSize":-4,"labels":false,"title":null}}}},
{"data":{"name":"m99"},"mark":{"type":"line","interpolate":"monotone","color":"#ff0000","strokeWidth":1.5,"clip":true},
"encoding":{"x":{"field":"f","type":"quantitative","scale":{"domain":[337.023,337.083],"nice":false,"zero":false},"axis":{"orient":"top","values":[337.03,337.05,337.07],"tickSize":-4,"labels":false,"title":null}},
"y":{"field":"v","type":"quantitative","scale":{"domain":[-30,155],"nice":false,"zero":false},"axis":{"orient":"right","values":[0,50,100,150],"tickSize":-4,"labels":false,"title":null}}}},
{"data":{"name":"m99"},"mark":{"type":"line","opacity":0},
"encoding":{"x":{"field":"f","type":"quantitative","scale":{"domain":[337.023,337.083],"nice":false,"zero":false},"axis":{"orient":"bottom","values":[337.024,337.026,337.028,337.03,337.032,337.034,337.036,337.038,337.04,337.042,337.044,337.046,337.048,337.05,337.052,337.054,337.056,337.058,337.06,337.062,337.064,337.066,337.068,337.07,337.072,337.074,337.076,337.078,337.08,337.082],"tickSize":-2,"labels":false,"title":null}},
"y":{"field":"v","type":"quantitative","scale":{"domain":[-30,155],"nice":false,"zero":false},"axis":{"orient":"left","values":[-20,-10,10,20,30,40,60,70,80,90,110,120,130,140],"tickSize":-2,"labels":false,"title":null}}}},
{"data":{"name":"m99"},"mark":{"type":"line","opacity":0},
"encoding":{"x":{"field":"f","type":"quantitative","scale":{"domain":[337.023,337.083],"nice":false,"zero":false},"axis":{"orient":"top","values":[337.024,337.026,337.028,337.03,337.032,337.034,337.036,337.038,337.04,337.042,337.044,337.046,337.048,337.05,337.052,337.054,337.056,337.058,337.06,337.062,337.064,337.066,337.068,337.07,337.072,337.074,337.076,337.078,337.08,337.082],"tickSize":-2,"labels":false,"title":null}},
"y":{"field":"v","type":"quantitative","scale":{"domain":[-30,155],"nice":false,"zero":false},"axis":{"orient":"right","values":[-20,-10,10,20,30,40,60,70,80,90,110,120,130,140],"tickSize":-2,"labels":false,"title":null}}}}
],
"resolve":{"axis":{"x":"independent","y":"independent"}}},

{"width":198,"height":123,
"title":{"text":"112","anchor":"start","align":"center","dx":37,"offset":-25,"frame":"group","baseline":"alphabetic"},
"layer":[
{"data":{"name":"s112"},"mark":{"type":"line","interpolate":"step","color":"black","strokeWidth":1.4,"clip":true},
"encoding":{"x":{"field":"f","type":"quantitative","scale":{"domain":[339.2144,339.2744],"nice":false,"zero":false},"axis":{"orient":"bottom","values":[339.22,339.24,339.26],"format":".2f","tickSize":-4,"labelPadding":12,"title":"Freq. [GHz]","titleX":207,"titleY":49,"titleAlign":"center","titleBaseline":"alphabetic"}},
"y":{"field":"v","type":"quantitative","scale":{"domain":[-30,155],"nice":false,"zero":false},"axis":{"orient":"left","values":[0,50,100,150],"tickSize":-4,"labelPadding":8,"title":null}}}},
{"data":{"name":"m112"},"mark":{"type":"line","interpolate":"monotone","color":"#ff0000","strokeWidth":1.5,"clip":true},
"encoding":{"x":{"field":"f","type":"quantitative","scale":{"domain":[339.2144,339.2744],"nice":false,"zero":false},"axis":{"orient":"top","values":[339.22,339.24,339.26],"tickSize":-4,"labels":false,"title":null}},
"y":{"field":"v","type":"quantitative","scale":{"domain":[-30,155],"nice":false,"zero":false},"axis":{"orient":"right","values":[0,50,100,150],"tickSize":-4,"labels":false,"title":null}}}},
{"data":{"name":"m112"},"mark":{"type":"line","opacity":0},
"encoding":{"x":{"field":"f","type":"quantitative","scale":{"domain":[339.2144,339.2744],"nice":false,"zero":false},"axis":{"orient":"bottom","values":[339.216,339.218,339.22,339.222,339.224,339.226,339.228,339.23,339.232,339.234,339.236,339.238,339.24,339.242,339.244,339.246,339.248,339.25,339.252,339.254,339.256,339.258,339.26,339.262,339.264,339.266,339.268,339.27,339.272,339.274],"tickSize":-2,"labels":false,"title":null}},
"y":{"field":"v","type":"quantitative","scale":{"domain":[-30,155],"nice":false,"zero":false},"axis":{"orient":"left","values":[-20,-10,10,20,30,40,60,70,80,90,110,120,130,140],"tickSize":-2,"labels":false,"title":null}}}},
{"data":{"name":"m112"},"mark":{"type":"line","opacity":0},
"encoding":{"x":{"field":"f","type":"quantitative","scale":{"domain":[339.2144,339.2744],"nice":false,"zero":false},"axis":{"orient":"top","values":[339.216,339.218,339.22,339.222,339.224,339.226,339.228,339.23,339.232,339.234,339.236,339.238,339.24,339.242,339.244,339.246,339.248,339.25,339.252,339.254,339.256,339.258,339.26,339.262,339.264,339.266,339.268,339.27,339.272,339.274],"tickSize":-2,"labels":false,"title":null}},
"y":{"field":"v","type":"quantitative","scale":{"domain":[-30,155],"nice":false,"zero":false},"axis":{"orient":"right","values":[-20,-10,10,20,30,40,60,70,80,90,110,120,130,140],"tickSize":-2,"labels":false,"title":null}}}}
],
"resolve":{"axis":{"x":"independent","y":"independent"}}},

{"width":198,"height":123,
"title":{"text":"126","anchor":"start","align":"center","dx":41,"offset":-25,"frame":"group","baseline":"alphabetic"},
"layer":[
{"data":{"name":"s126"},"mark":{"type":"line","interpolate":"step","color":"black","strokeWidth":1.4,"clip":true},
"encoding":{"x":{"field":"f","type":"quantitative","scale":{"domain":[341.9279,341.9879],"nice":false,"zero":false},"axis":{"orient":"bottom","values":[341.93,341.95,341.97],"format":".2f","tickSize":-4,"labelPadding":12,"title":null}},
"y":{"field":"v","type":"quantitative","scale":{"domain":[-30,155],"nice":false,"zero":false},"axis":{"orient":"left","values":[0,50,100,150],"tickSize":-4,"labels":false,"title":null}}}},
{"data":{"name":"m126"},"mark":{"type":"line","interpolate":"monotone","color":"#ff0000","strokeWidth":1.5,"clip":true},
"encoding":{"x":{"field":"f","type":"quantitative","scale":{"domain":[341.9279,341.9879],"nice":false,"zero":false},"axis":{"orient":"top","values":[341.93,341.95,341.97],"tickSize":-4,"labels":false,"title":null}},
"y":{"field":"v","type":"quantitative","scale":{"domain":[-30,155],"nice":false,"zero":false},"axis":{"orient":"right","values":[0,50,100,150],"tickSize":-4,"labels":false,"title":null}}}},
{"data":{"name":"m126"},"mark":{"type":"line","opacity":0},
"encoding":{"x":{"field":"f","type":"quantitative","scale":{"domain":[341.9279,341.9879],"nice":false,"zero":false},"axis":{"orient":"bottom","values":[341.928,341.93,341.932,341.934,341.936,341.938,341.94,341.942,341.944,341.946,341.948,341.95,341.952,341.954,341.956,341.958,341.96,341.962,341.964,341.966,341.968,341.97,341.972,341.974,341.976,341.978,341.98,341.982,341.984,341.986],"tickSize":-2,"labels":false,"title":null}},
"y":{"field":"v","type":"quantitative","scale":{"domain":[-30,155],"nice":false,"zero":false},"axis":{"orient":"left","values":[-20,-10,10,20,30,40,60,70,80,90,110,120,130,140],"tickSize":-2,"labels":false,"title":null}}}},
{"data":{"name":"m126"},"mark":{"type":"line","opacity":0},
"encoding":{"x":{"field":"f","type":"quantitative","scale":{"domain":[341.9279,341.9879],"nice":false,"zero":false},"axis":{"orient":"top","values":[341.928,341.93,341.932,341.934,341.936,341.938,341.94,341.942,341.944,341.946,341.948,341.95,341.952,341.954,341.956,341.958,341.96,341.962,341.964,341.966,341.968,341.97,341.972,341.974,341.976,341.978,341.98,341.982,341.984,341.986],"tickSize":-2,"labels":false,"title":null}},
"y":{"field":"v","type":"quantitative","scale":{"domain":[-30,155],"nice":false,"zero":false},"axis":{"orient":"right","values":[-20,-10,10,20,30,40,60,70,80,90,110,120,130,140],"tickSize":-2,"labels":false,"title":null}}}}
],
"resolve":{"axis":{"x":"independent","y":"independent"}}}
]
}
